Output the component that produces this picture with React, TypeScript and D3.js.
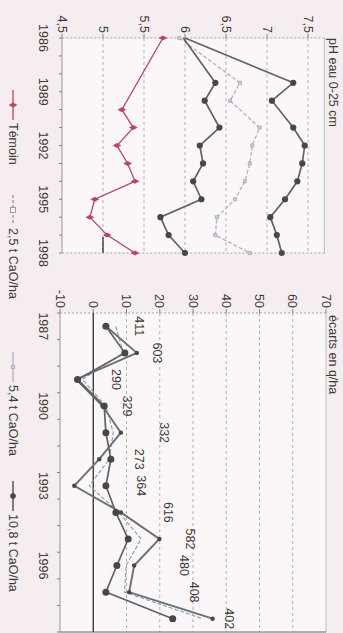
import React from "react";
import * as d3 from "d3";

// pH eau 0-25 cm, by year
const phYearsControl = [1986, 1990, 1991, 1992, 1993, 1994, 1995, 1996, 1997, 1998];
const phYearsLimed = [1986, 1988.5, 1989.5, 1991, 1992, 1993, 1994, 1995, 1996, 1997, 1998];
const phControl = [5.73, 5.23, 5.37, 5.17, 5.3, 5.39, 4.9, 4.84, 5.05, 5.39];
const ph25 = [5.98, 6.37, 6.24, 6.42, 6.18, 6.22, 6.1, 6.2, 5.7, 5.8, 6.0];
const ph54 = [5.93, 6.67, 6.55, 6.91, 6.82, 6.79, 6.73, 6.61, 6.39, 6.37, 6.79];
const ph108 = [6.0, 7.32, 7.06, 7.32, 7.46, 7.43, 7.37, 7.22, 7.04, 7.12, 7.18];
const phTicks = [4.5, 5, 5.5, 6, 6.5, 7, 7.5];
const phYearLabels = [1986, 1989, 1992, 1995, 1998];
const phYearTicks = d3.range(1986, 1999);

// yield gaps versus the control (q/ha) and control yields
const gapYears = [1987, 1988, 1989, 1990, 1991, 1992, 1993, 1994, 1995, 1996, 1997, 1998];
const gap25 = [3.8, 9.5, -4.7, 3.3, 3.8, 5.3, 3.8, 6.8, 10.5, 7.1, 3.8, 23.9];
const gap54 = [6.8, 9.0, -3.3, 3.8, 6.0, 4.8, -1.2, 7.7, 14.4, 9.9, 9.4, 32.9];
const gap108 = [3.8, 13.1, -5.1, 2.8, 8.3, 1.8, -5.7, 8.3, 19.9, 12.3, 10.8, 35.9];
const controlYield = [411, 603, 290, 329, 332, 273, 364, 616, 582, 480, 408, 402];
const gapTicks = [-10, 0, 10, 20, 30, 40, 50, 60, 70];
const gapYearLabels = [1987, 1990, 1993, 1996];

const legendNames = ["Témoin", "2,5 t CaO/ha", "5,4 t CaO/ha", "10,8 t CaO/ha"];
const phTitle = "pH eau 0-25 cm";
const gapTitle = "écarts en q/ha";

const FONT = "'Liberation Sans Narrow', 'Liberation Sans', Arial, sans-serif";
const FS = 12.5;
const TXT = "#3a3a3a";
const RED = "#b8475c";
const DARK = "#626262";
const DOT = "#474747";
const LIGHT = "#aab3c3";
const BLUE = "#7f9dc6";
const GRID = "#a8a8a8";

const fmt = (v: number) => String(v).replace(".", ",");

export default function App() {
  // drawing frame is 633 wide x 343 high, turned a quarter turn clockwise
  const xPh = d3.scaleLinear().domain([1986, 1998]).range([38, 253]);
  const yPh = d3.scaleLinear().domain([4.5, 7.7]).range([281, 18.6]);
  const xGap = d3.scaleBand<number>().domain(gapYears).range([313, 632]);
  const yGap = d3.scaleLinear().domain([-10, 70]).range([283, 17]);
  const cx = (y: number) => (xGap(y) as number) + xGap.bandwidth() / 2;

  const phPath = (years: number[], vals: number[]) =>
    d3.line<number>().x((_, i) => xPh(years[i])).y((d) => yPh(d))(vals) || "";
  const gapPath = (vals: number[]) =>
    d3.line<number>().x((_, i) => cx(gapYears[i])).y((d) => yGap(d))(vals) || "";

  const diamond = d3.symbol(d3.symbolDiamond, 22)() || "";
  const square = d3.symbol(d3.symbolSquare, 10)() || "";

  // where each control-yield label sits on the q/ha scale
  const yieldLabelLevel = [13.9, 19.3, 6.9, 10.2, 21.4, 13.9, 14.5, 22.6, 29.2, 27.4, 30.4, 41];

  const [phX0, phX1] = xPh.range();
  const [gX0, gX1] = xGap.range();

  const legendItems = [
    { u0: 90, kind: "control" },
    { u0: 195, kind: "d25" },
    { u0: 352, kind: "d54" },
    { u0: 481, kind: "d108" },
  ];

  return (
    <svg
      width={343}
      height={633}
      style={{ position: "absolute", left: 0, top: 0, background: "#f6edf1" }}
      fontFamily={FONT}
    >
      <g transform="translate(343,0) rotate(90)">
        {/* ---------- pH panel ---------- */}
        <rect x={phX0} y={yPh(7.7)} width={phX1 - phX0} height={yPh(4.5) - yPh(7.7)} fill="#fbf7f9" />
        {phTicks.map((t) => (
          <g key={"pg" + t}>
            {t > 4.5 && (
              <line x1={phX0} x2={phX1} y1={yPh(t)} y2={yPh(t)} stroke={GRID} strokeWidth={0.9} strokeDasharray="3,3" />
            )}
            <line x1={phX0 - 4} x2={phX0} y1={yPh(t)} y2={yPh(t)} stroke="#777" strokeWidth={0.9} />
            <text x={phX0 - 5} y={yPh(t) + 4.3} textAnchor="end" fontSize={FS} fill={TXT}>
              {fmt(t)}
            </text>
          </g>
        ))}
        {/* frame */}
        <line x1={phX0} x2={phX1} y1={yPh(7.7)} y2={yPh(7.7)} stroke="#bdbdbd" strokeWidth={1} />
        <line x1={phX0} x2={phX0} y1={yPh(7.7)} y2={yPh(4.5)} stroke="#9a9a9a" strokeWidth={0.9} strokeDasharray="2,2" />
        <line x1={phX1} x2={phX1} y1={yPh(7.7)} y2={yPh(4.5)} stroke="#9a9a9a" strokeWidth={0.9} strokeDasharray="2,2" />
        <line x1={phX0} x2={phX1} y1={yPh(4.5)} y2={yPh(4.5)} stroke="#8a8a8a" strokeWidth={0.9} />
        {phYearTicks.map((y) => (
          <line key={"pt" + y} x1={xPh(y)} x2={xPh(y)} y1={yPh(4.5)} y2={yPh(4.5) + 3} stroke="#777" strokeWidth={0.9} />
        ))}
        {phYearLabels.map((y) => (
          <text key={"py" + y} x={xPh(y)} y={304.5} textAnchor="middle" fontSize={FS} fill={TXT}>
            {y}
          </text>
        ))}
        {/* darker stretch on the pH 5 line */}
        <line x1={xPh(1997.1)} x2={phX1} y1={yPh(5)} y2={yPh(5)} stroke="#2f2f2f" strokeWidth={1.3} />
        <text x={phX0} y={14.5} fontSize={FS} fill={TXT}>
          {phTitle}
        </text>

        <path d={phPath(phYearsLimed, ph54)} fill="none" stroke={LIGHT} strokeWidth={1.3} strokeDasharray="4,2" />
        {ph54.map((v, i) => (
          <path key={"m54" + i} d={square} transform={`translate(${xPh(phYearsLimed[i])},${yPh(v)})`} fill="#c9cfda" stroke="#98a2b4" strokeWidth={0.7} />
        ))}
        <path d={phPath(phYearsLimed, ph25)} fill="none" stroke={DARK} strokeWidth={1.7} />
        <path d={phPath(phYearsLimed, ph108)} fill="none" stroke={DARK} strokeWidth={1.7} />
        {[ph25, ph108].map((s, k) =>
          s.map((v, i) =>
            i === 0 ? null : (
              <circle key={"pd" + k + i} cx={xPh(phYearsLimed[i])} cy={yPh(v)} r={3.1} fill={DOT} />
            )
          )
        )}
        <path d={phPath(phYearsControl, phControl)} fill="none" stroke={RED} strokeWidth={1.3} />
        {phControl.map((v, i) => (
          <path key={"mc" + i} d={diamond} transform={`translate(${xPh(phYearsControl[i])},${yPh(v)})`} fill={RED} />
        ))}

        {/* ---------- yield gap panel ---------- */}
        <rect x={gX0} y={yGap(70)} width={gX1 - gX0} height={yGap(-10) - yGap(70)} fill="#fbf7f9" />
        {gapTicks.map((t) => (
          <g key={"gg" + t}>
            {t > -10 && t < 70 && t !== 0 && (
              <line x1={gX0} x2={gX1} y1={yGap(t)} y2={yGap(t)} stroke={GRID} strokeWidth={0.9} strokeDasharray="3,3" />
            )}
            <line x1={gX0 - 4} x2={gX0} y1={yGap(t)} y2={yGap(t)} stroke="#777" strokeWidth={0.9} />
            <text x={gX0 - 5} y={yGap(t) + 4.3} textAnchor="end" fontSize={FS} fill={TXT}>
              {t}
            </text>
          </g>
        ))}
        <line x1={gX0} x2={gX1} y1={yGap(70)} y2={yGap(70)} stroke="#bdbdbd" strokeWidth={1} />
        <line x1={gX0} x2={gX0} y1={yGap(70)} y2={yGap(-10)} stroke="#9a9a9a" strokeWidth={0.9} strokeDasharray="2,2" />
        <line x1={gX1} x2={gX1} y1={yGap(70)} y2={yGap(-10)} stroke="#6a6a6a" strokeWidth={1} />
        <line x1={gX0} x2={gX1} y1={yGap(-10)} y2={yGap(-10)} stroke="#8a8a8a" strokeWidth={0.9} />
        <line x1={gX0} x2={gX1} y1={yGap(0)} y2={yGap(0)} stroke="#2e2e2e" strokeWidth={1.3} />
        {gapYears.concat([1999]).map((y, i) => {
          const u = gX0 + i * xGap.bandwidth();
          return <line key={"gt" + y} x1={u} x2={u} y1={yGap(-10)} y2={yGap(-10) + 3} stroke="#777" strokeWidth={0.9} />;
        })}
        {gapYearLabels.map((y) => (
          <text key={"gy" + y} x={cx(y)} y={304.5} textAnchor="middle" fontSize={FS} fill={TXT}>
            {y}
          </text>
        ))}
        <text x={gX0 + 2} y={14.5} fontSize={FS} fill={TXT}>
          {gapTitle}
        </text>

        <path d={gapPath(gap54)} fill="none" stroke={BLUE} strokeWidth={1.1} strokeDasharray="4,2" />
        <path d={gapPath(gap108)} fill="none" stroke="#6f6f6f" strokeWidth={1.9} />
        {gap108.map((v, i) => (
          <circle key={"e" + i} cx={cx(gapYears[i])} cy={yGap(v)} r={2.2} fill={DOT} />
        ))}
        <path d={gapPath(gap25)} fill="none" stroke={DARK} strokeWidth={1.7} />
        {gap25.map((v, i) => (
          <circle key={"d" + i} cx={cx(gapYears[i])} cy={yGap(v)} r={3.5} fill={DOT} />
        ))}
        {controlYield.map((v, i) => (
          <text key={"cy" + i} x={cx(gapYears[i])} y={yGap(yieldLabelLevel[i]) + 4.3} textAnchor="middle" fontSize={FS} fill={TXT}>
            {v}
          </text>
        ))}

        {/* ---------- legend ---------- */}
        {legendItems.map((it, i) => {
          const v = 330;
          const u0 = it.u0;
          const len = 30;
          const mid = u0 + len / 2;
          let sym: React.ReactNode = null;
          if (it.kind === "control") {
            sym = (
              <g>
                <line x1={u0} x2={u0 + len} y1={v} y2={v} stroke={RED} strokeWidth={1.3} />
                <path d={diamond} transform={`translate(${mid},${v})`} fill={RED} />
              </g>
            );
          } else if (it.kind === "d25") {
            sym = (
              <g>
                <line x1={u0} x2={u0 + len} y1={v} y2={v} stroke="#8c8c8c" strokeWidth={1.2} strokeDasharray="3,2" />
                <rect x={mid - 2.5} y={v - 2.5} width={5} height={5} fill="#f4f4f4" stroke="#8c8c8c" strokeWidth={0.8} />
              </g>
            );
          } else if (it.kind === "d54") {
            sym = (
              <g>
                <line x1={u0} x2={u0 + len} y1={v} y2={v} stroke={LIGHT} strokeWidth={1.3} />
                <path d={square} transform={`translate(${mid},${v})`} fill="#c9cfda" stroke="#98a2b4" strokeWidth={0.7} />
              </g>
            );
          } else {
            sym = (
              <g>
                <line x1={u0} x2={u0 + len} y1={v} y2={v} stroke={DARK} strokeWidth={1.6} />
                <circle cx={mid} cy={v} r={2.8} fill={DOT} />
              </g>
            );
          }
          return (
            <g key={"lg" + i}>
              {sym}
              <text x={u0 + len + 3} y={v + 4.3} fontSize={FS} fill={TXT}>
                {legendNames[i]}
              </text>
            </g>
          );
        })}
      </g>
    </svg>
  );
}
